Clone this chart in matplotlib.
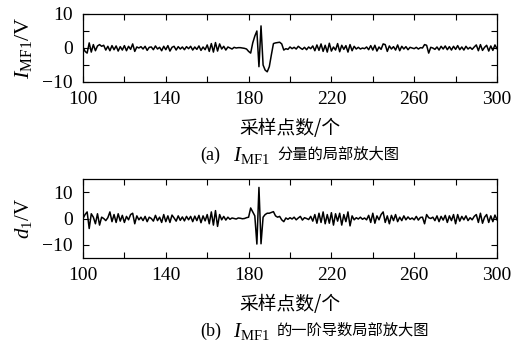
import numpy as np
import matplotlib
matplotlib.use("Agg")
import matplotlib.pyplot as plt

plt.rcParams['font.family'] = ['Liberation Serif', 'Noto Sans CJK SC']
plt.rcParams['mathtext.fontset'] = 'custom'
plt.rcParams['mathtext.rm'] = 'Liberation Serif'
plt.rcParams['mathtext.it'] = 'Liberation Serif:italic'
plt.rcParams['axes.unicode_minus'] = True

samples = np.arange(100, 301)

imf1 = [
    0.3, -1.0, -1.5, 1.5, -1.2, 1.0, -0.8, 0.6, 1.0, 0.5,
    0.8, -0.6, 0.5, -0.8, 0.7, -0.5, 0.6, -0.9, 0.4, -0.6,
    0.7, -0.8, 0.5, -0.4, 1.2, -1.0, 0.3, 0.0, 0.4, -0.3,
    0.5, -0.7, 0.2, 0.3, -0.5, 0.6, -0.3, 0.2, -0.8, 0.5,
    -0.5, 0.7, -0.9, 0.2, 0.5, -0.6, 0.4, -0.3, 0.3, -0.5,
    0.4, -0.2, 0.5, -0.6, 0.3, -0.4, 0.6, -0.7, 0.3, -0.5,
    0.9, -1.0, 1.3, -1.2, 1.6, -0.9, 1.2, -0.3, 0.5, -0.6,
    0.3, 0.0, -0.3, 0.2, 0.0, 0.1, 0.1, 0.0, -0.1, -0.3,
    -1.0, -1.5, 1.5, 3.5, 5.0, -5.5, 6.5, -5.0, -6.5, -7.0,
    -5.5, -2.0, 1.3, 1.5, 1.6, 1.7, 1.2, -0.6, -0.2, -0.4,
    0.3, -0.2, 0.2, -0.3, 0.5, 0.0, -0.4, 0.2, -0.5, 0.3,
    -0.2, 0.6, -0.8, 0.9, -0.7, 1.2, -1.0, 0.8, -1.2, 1.4,
    -0.9, 0.3, -0.6, 1.3, -1.1, 0.8, -0.4, 0.7, -1.2, 1.0,
    -0.8, 0.5, -0.3, 0.2, -0.3, 0.0, -0.2, 0.3, -0.5, 0.7,
    -0.6, 0.8, -0.9, 0.3, -0.4, 1.2, 1.0, -1.0, 0.6, -0.3,
    0.4, -0.6, 0.9, -0.8, 0.5, -0.3, 0.4, -0.5, 0.2, 0.0,
    -0.2, 0.2, -0.3, 0.1, 0.0, 1.0, 0.8, -1.5, 0.2, 0.0,
    -0.4, 0.3, -0.6, 0.5, -0.3, 0.6, -0.5, 0.4, -0.6, 0.5,
    -0.4, 0.7, -0.5, 0.3, -0.6, 0.5, -0.3, 0.2, -0.4, 0.3,
    0.9, -0.8, 1.0, -0.7, 0.2, 0.8, -0.9, 0.6, -0.7, 0.9, -0.2,
]

d1 = [
    0.0, 1.5, 2.5, -3.8, 1.8, 0.5, -2.0, 1.8, -2.5, 0.5,
    0.0, -0.8, 0.3, 2.5, -1.2, 1.5, -1.5, 1.8, -1.0, 1.2,
    -1.5, 0.8, -0.5, 1.5, 2.0, -2.0, 1.0, -0.5, 0.5, -0.8,
    0.8, -1.2, 0.5, 0.0, -1.0, 1.2, -0.8, 0.5, -1.5, 1.5,
    -1.2, 1.0, -1.5, 1.3, 0.2, -1.0, 1.0, -0.7, 0.6, -0.9,
    0.8, -0.5, 0.8, -1.2, 0.9, -0.8, 1.2, -1.6, 1.0, -0.9,
    1.5, -2.0, 2.5, -2.5, 3.0, -3.0, 1.5, -0.5, 0.8, -0.6,
    0.5, -0.3, 0.2, 0.0, -0.2, 0.2, 0.1, -0.1, 0.0, 0.3,
    0.5, 4.0, 2.5, 1.0, -9.7, 11.8, -9.6, 0.5, 1.5, 2.0,
    2.0, 2.3, 2.6, 1.0, 0.5, 0.8, -0.5, -1.2, 0.2, -0.3,
    0.3, -0.2, 0.5, -0.5, 0.2, 0.8, -0.6, 0.3, 0.0, -0.4,
    0.8, -1.0, 1.5, -1.8, 2.0, -1.5, 2.5, -2.0, 1.5, -1.8,
    2.2, -2.5, 1.8, -1.0, 2.0, -2.5, 1.5, -1.2, 2.5, -2.8,
    1.0, -0.5, 0.3, -0.2, 0.5, -0.3, 0.2, -0.5, 1.2, -1.5,
    2.0, -1.8, 1.0, -0.5, 1.5, 2.5, -1.5, 1.0, -2.0, 1.2,
    -0.8, 1.5, -1.2, 0.5, -0.8, 1.0, -0.5, 0.6, -0.3, 0.2,
    -0.5, 0.8, -0.6, 0.4, 0.5, -2.0, 1.5, 0.3, 0.0, 0.5,
    -0.8, 1.0, -1.2, 0.8, -0.6, 1.2, -1.5, 1.0, -0.8, 1.5,
    -2.0, 1.5, -1.0, 0.8, -0.5, 1.0, -0.8, 0.3, -0.5, 0.8,
    1.5, -1.5, 2.0, -1.8, 0.5, 1.5, -1.5, 1.0, -1.2, 1.3, -0.5,
]

xticks = [100, 120, 140, 160, 180, 200, 220, 240, 260, 280, 300]
xticklabels = ['100', '', '140', '', '180', '', '220', '', '260', '', '300']
y1ticks = [-10, -5, 0, 5, 10]
y1ticklabels = ['\u221210', '', '0', '', '10']
y2ticks = [-10, 0, 10]
y2ticklabels = ['\u221210', '0', '10']
xlabel = '采样点数/个'

W, H = 524, 350
fig = plt.figure(figsize=(W / 100, H / 100), dpi=100)

def px_axes(l, t, r, b):
    return fig.add_axes([l / W, 1 - b / H, (r - l) / W, (b - t) / H])

ax1 = px_axes(83, 14, 497, 82)
ax2 = px_axes(83, 179, 497, 258)

for ax, y, yl, yt, ytl in [
    (ax1, imf1, (-10, 10), y1ticks, y1ticklabels),
    (ax2, d1, (-15, 15), y2ticks, y2ticklabels),
]:
    ax.plot(samples, y, color='black', lw=1.1)
    ax.set_xlim(100, 300)
    ax.set_ylim(*yl)
    ax.set_xticks(xticks)
    ax.set_xticklabels(xticklabels)
    ax.set_yticks(yt)
    ax.set_yticklabels(ytl)
    ax.tick_params(direction='in', top=True, right=True, length=4, width=0.8,
                   labelsize=14)
    ax.tick_params(axis='x', pad=6.5)
    ax.tick_params(axis='y', pad=7.5)
    for s in ax.spines.values():
        s.set_linewidth(0.9)
    ax.set_xlabel(xlabel, fontsize=13.5, family='Noto Sans CJK SC', labelpad=7)

ax1.set_ylabel(r'$I_{\mathrm{MF1}}$/V', fontsize=16, labelpad=6)
ax2.set_ylabel(r'$d_{1}$/V', fontsize=15, labelpad=6)

def caption(yc, tag, rest):
    fig.text(200 / W, 1 - yc / H, tag, fontsize=13, va='center', ha='left',
             family='Liberation Serif')
    fig.text(233 / W, 1 - yc / H, r'$I_{\mathrm{MF1}}$', fontsize=15, va='center', ha='left')
    fig.text(277 / W, 1 - (yc - 1) / H, rest, fontsize=11, va='center', ha='left',
             family='Noto Sans CJK SC')

caption(155, '(a)', '分量的局部放大图')
caption(331, '(b)', '的一阶导数局部放大图')

fig.savefig('out.png', dpi=100)
